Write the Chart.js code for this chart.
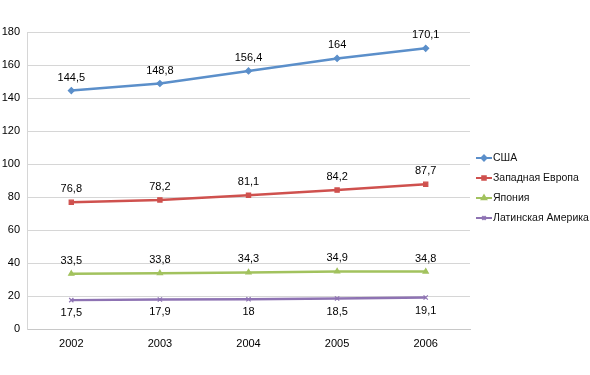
<!DOCTYPE html>
<html>
<head>
<meta charset="utf-8">
<script src="https://cdn.jsdelivr.net/npm/chart.js@4/dist/chart.umd.min.js"></script>
<style>
    html, body { margin: 0; padding: 0; background: #fff; }
    #wrap { width: 590px; height: 375px; }
</style>
</head>
<body>
<div id="wrap"><canvas id="myChart" width="590" height="375"></canvas></div>
<script>
const years = ['2002', '2003', '2004', '2005', '2006'];
const usa = [144.5, 148.8, 156.4, 164, 170.1];
const westEurope = [76.8, 78.2, 81.1, 84.2, 87.7];
const japan = [33.5, 33.8, 34.3, 34.9, 34.8];
const latinAmerica = [17.5, 17.9, 18, 18.5, 19.1];

const seriesNames = ['США', 'Западная Европа', 'Япония', 'Латинская Америка'];
const seriesColors = ['#5B8FCA', '#CF514E', '#A2C25E', '#8E73B3'];
const seriesMarkers = ['rectRot', 'rect', 'triangle', 'crossRot'];
const labelBelow = [false, false, false, true];

const fontFamily = '"Liberation Sans", Arial, sans-serif';

function fmt(v) {
    return String(v).replace('.', ',');
}

// value labels next to each point
const valueLabels = {
    id: 'valueLabels',
    afterDatasetsDraw(chart) {
        const ctx = chart.ctx;
        ctx.save();
        ctx.font = '11px ' + fontFamily;
        ctx.fillStyle = '#000';
        ctx.textAlign = 'center';
        ctx.textBaseline = 'middle';
        chart.data.datasets.forEach(function (ds, i) {
            const meta = chart.getDatasetMeta(i);
            meta.data.forEach(function (pt, j) {
                const dy = labelBelow[i] ? 13 : -13;
                ctx.fillText(fmt(ds.data[j]), pt.x, pt.y + dy);
            });
        });
        ctx.restore();
    }
};

// legend on the right, drawn like the original
const sideLegend = {
    id: 'sideLegend',
    afterDraw(chart) {
        const ctx = chart.ctx;
        ctx.save();
        ctx.font = '10.5px ' + fontFamily;
        ctx.textBaseline = 'middle';
        chart.data.datasets.forEach(function (ds, i) {
            const y = 158 + i * 20;
            ctx.strokeStyle = ds.borderColor;
            ctx.fillStyle = ds.borderColor;
            ctx.lineWidth = 2;
            ctx.beginPath();
            ctx.moveTo(476, y);
            ctx.lineTo(492, y);
            ctx.stroke();
            Chart.helpers.drawPoint(ctx, {
                pointStyle: ds.pointStyle,
                radius: 2.5,
                borderWidth: 1
            }, 484, y);
            ctx.fillStyle = '#111';
            ctx.fillText(ds.label, 493, y);
        });
        ctx.restore();
    }
};

function renderChart() {
    const allSeries = [usa, westEurope, japan, latinAmerica];
    const datasets = allSeries.map(function (d, i) {
        return {
            label: seriesNames[i],
            data: d,
            borderColor: seriesColors[i],
            backgroundColor: seriesColors[i],
            pointStyle: seriesMarkers[i],
            pointRadius: 3,
            pointBorderWidth: 1.2,
            borderWidth: 2.5,
            tension: 0
        };
    });

    const config = {
        type: 'line',
        data: {
            labels: years,
            datasets: datasets
        },
        options: {
            responsive: false,
            animation: false,
            layout: {
                padding: { top: 32, right: 120, left: 0, bottom: 0 }
            },
            plugins: {
                legend: { display: false },
                tooltip: { enabled: false }
            },
            scales: {
                x: {
                    offset: true,
                    grid: { display: false, drawTicks: false },
                    border: { display: true, color: '#c8c8c8', width: 1 },
                    ticks: {
                        color: '#000',
                        padding: 8,
                        font: { size: 11, family: fontFamily }
                    },
                    afterFit: function (scale) { scale.height = 46; }
                },
                y: {
                    min: 0,
                    max: 180,
                    grid: { color: '#d6d6d6', drawTicks: false },
                    border: { display: true, color: '#d6d6d6', width: 1 },
                    ticks: {
                        stepSize: 20,
                        color: '#000',
                        padding: 7,
                        font: { size: 11, family: fontFamily }
                    },
                    afterFit: function (scale) { scale.width = 27; }
                }
            }
        },
        plugins: [valueLabels, sideLegend]
    };

    new Chart(document.getElementById('myChart'), config);
}

renderChart();
</script>
</body>
</html>
